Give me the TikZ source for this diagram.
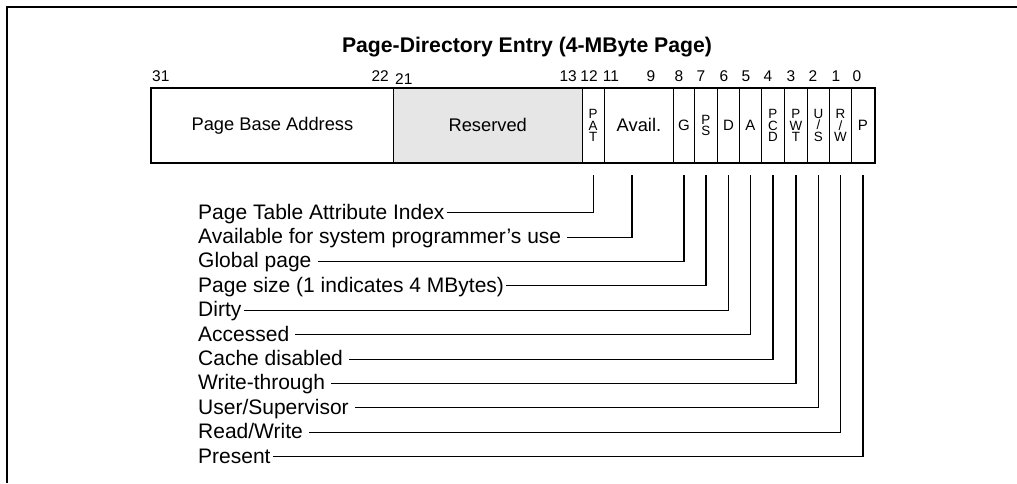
\documentclass[tikz,border=0pt]{standalone}
\usepackage{fontspec}
\setmainfont{Liberation Sans}
\usepackage{xcolor}
\usetikzlibrary{positioning}
\definecolor{resgray}{HTML}{E6E6E6}

\begin{document}
\begin{tikzpicture}[x=1pt, y=-1pt,
        every node/.style={inner sep=0pt},
        cell/.style={draw, line width=0.9pt, anchor=north west,
            minimum height=74pt, align=center},
        wide/.style={font=\fontsize{18.3}{22}\selectfont},
        onebit/.style={font=\fontsize{15}{17}\selectfont},
        stack/.style={font=\fontsize{13.4}{11.6}\selectfont},
        bitno/.style={font=\fontsize{15.5}{17}\selectfont},
        lbl/.style={font=\fontsize{21}{24}\selectfont, anchor=west,
            text height=15pt, text depth=2.4pt},
        leader/.style={line width=1.1pt}]
    \useasboundingbox (0,0) rectangle (1017,483);
    % frame
    \draw[line width=2pt] (1017,6.7) -- (6.7,6.7) -- (6.7,483);
    \node[font=\bfseries\fontsize{21.2}{25}\selectfont, anchor=base] (title) at (527,52) {Page-Directory Entry (4-MByte Page)};
    % fields of the entry
    \node[cell, wide, minimum width=242pt] at (151,88) (base) {Page Base Address};
    \node[cell, wide, fill=resgray, minimum width=188.5pt] at (393,88) (res) {Reserved};
    \foreach \name/\xa/\xb/\sty/\txt in {pat/581.5/604/stack/{P\\A\\T},
            avail/604/673/wide/{Avail.}, g/673/694/onebit/{G},
            ps/694/717/stack/{P\\S}, d/717/739/onebit/{D}, a/739/761/onebit/{A},
            pcd/761/784/stack/{P\\C\\D}, pwt/784/807/stack/{P\\W\\T},
            us/807/829/stack/{U\\/\\S}, rw/829/851/stack/{R\\/\\W},
            p/851/874/onebit/{P}}
        \node[cell, \sty, minimum width=\xb-\xa] at (\xa,88) (\name) {\txt};
    \draw[line width=2.3pt] (base.north west) rectangle (p.south east);
    % bit numbers
    \node[bitno, anchor=base west] at (152,81) (b31) {31};
    \node[bitno, anchor=base east] at (389,81) (b22) {22};
    \node[bitno, anchor=base west] at (395,84) (b21) {21};
    \node[bitno, anchor=base east] at (577,81) (b13) {13};
    \foreach \b/\x in {12/589, 11/611, 9/651, 8/679, 7/701, 6/724, 5/746,
            4/768, 3/791, 2/813, 1/836, 0/857}
        \node[bitno, anchor=base] at (\x,81) (b\b) {\b};
    % taps below the fields
    \foreach \c in {pat,g,ps,d,a,pcd,pwt,us,rw,p}
        \coordinate (t\c) at ([yshift=-12pt]\c.south);
    \coordinate (tavail) at ([xshift=-7pt,yshift=-12pt]avail.south);
    % descriptions
    \foreach \i/\tap/\gap/\txt in {0/pat/2/{Page Table Attribute Index},
            1/avail/6/{Available for system programmer’s use},
            2/g/6/{Global page}, 3/ps/2/{Page size (1 indicates 4 MBytes)},
            4/d/2/{Dirty}, 5/a/6/{Accessed}, 6/pcd/6/{Cache disabled},
            7/pwt/6/{Write-through}, 8/us/6/{User/Supervisor},
            9/rw/6/{Read/Write}, 10/p/2/{Present}} {
        \node[lbl] at (198,{212.7+24.4*\i}) (l\i) {\txt};
        \draw[leader] ([xshift=\gap]l\i.east) -| (t\tap);
    }
\end{tikzpicture}
\end{document}
